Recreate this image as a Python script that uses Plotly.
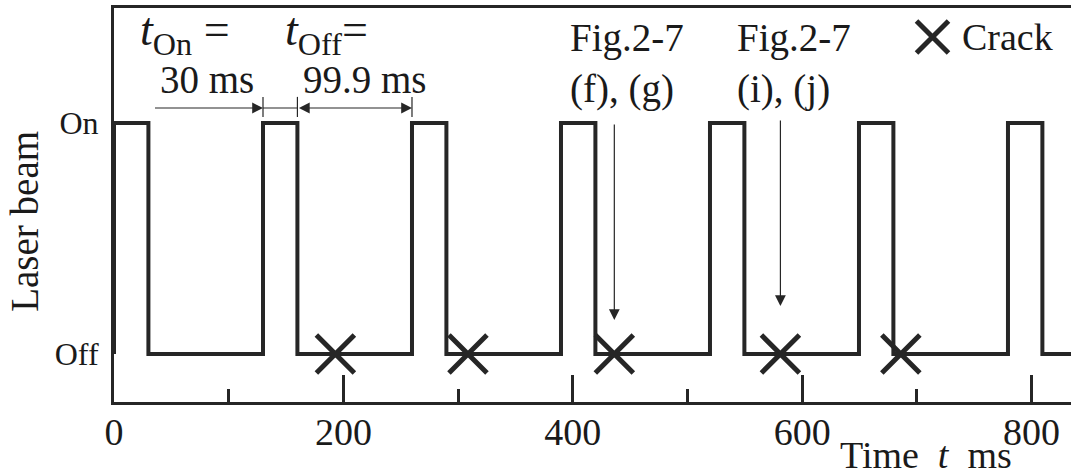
import plotly.graph_objects as go

# Laser pulse timing (ms): t_On = 30 ms, t_Off = 99.9 ms
rise_ms = [0, 129.9, 259.8, 389.7, 519.6, 649.5, 779.4]
fall_ms = [30, 159.9, 289.8, 419.7, 549.6, 679.5, 809.4]
t_end_ms = 840

# Beam state levels and their labels
state_levels = [0, 1]
state_labels = ["Off", "On"]

# Times at which a crack occurred (ms)
crack_ms = [193, 308.6, 436.2, 581, 686]

# Cracks shown in Fig.2-7 (index into crack_ms)
ref_texts = ["Fig.2-7<br>(f), (g)", "Fig.2-7<br>(i), (j)"]
ref_crack_idx = [2, 3]

# Axis ticks
x_major = [0, 200, 400, 600, 800]

INK = "#262626"
TXT = "#1a1a1a"
FONT = "Liberation Serif"


def tfont(size):
    return dict(family=FONT, size=size, color=TXT)


off_lv, on_lv = state_levels

# Step waveform built from the rise / fall edges
wave_t, wave_s = [], []
for r, f in zip(rise_ms, fall_ms):
    wave_t += [r, r, f, f]
    wave_s += [off_lv, on_lv, on_lv, off_lv]
wave_t.append(t_end_ms)
wave_s.append(off_lv)

fig = go.Figure()
fig.add_trace(go.Scatter(
    x=wave_t, y=wave_s, mode="lines",
    line=dict(color=INK, width=4), showlegend=False, hoverinfo="skip",
))
fig.add_trace(go.Scatter(
    x=crack_ms, y=[off_lv] * len(crack_ms), mode="markers",
    marker=dict(symbol="x-thin", size=38, line=dict(color=INK, width=5)),
    showlegend=False, cliponaxis=False,
))

# Legend key for the crack symbol
fig.add_trace(go.Scatter(
    x=[713.6], y=[1.372], mode="markers",
    marker=dict(symbol="x-thin", size=32, line=dict(color=INK, width=5)),
    showlegend=False, cliponaxis=False, hoverinfo="skip",
))

ann = []
ann.append(dict(x=738, y=1.372, text="Crack", xanchor="left", yanchor="middle",
                showarrow=False, font=tfont(38)))

# t_On / t_Off labels
ann.append(dict(x=21, y=1.39, text="<i>t</i><sub>On</sub> =", xanchor="left",
                yanchor="middle", showarrow=False, font=tfont(46)))
ann.append(dict(x=147, y=1.39, text="<i>t</i><sub>Off</sub>=", xanchor="left",
                yanchor="middle", showarrow=False, font=tfont(46)))
ann.append(dict(x=38.7, y=1.19, text="30 ms", xanchor="left", yanchor="middle",
                showarrow=False, font=tfont(39)))
ann.append(dict(x=162.6, y=1.19, text="99.9 ms", xanchor="left", yanchor="middle",
                showarrow=False, font=tfont(39)))

# Dimension arrows for the on / off durations
dim_y = 1.065
ann.append(dict(x=rise_ms[1], y=dim_y, ax=34.4, ay=dim_y, axref="x", ayref="y",
                text="", showarrow=True, arrowhead=2, arrowsize=1.8,
                arrowwidth=1.2, arrowcolor=INK, standoff=0))
ann.append(dict(x=rise_ms[2], y=dim_y, ax=fall_ms[1], ay=dim_y, axref="x", ayref="y",
                text="", showarrow=True, arrowhead=2, startarrowhead=2,
                arrowside="end+start", arrowsize=1.8, startarrowsize=1.8,
                arrowwidth=1.2, arrowcolor=INK, standoff=0, startstandoff=0))

shapes = []
for xv in (rise_ms[1], fall_ms[1], rise_ms[2]):
    shapes.append(dict(type="line", x0=xv, x1=xv, y0=1.026, y1=1.113,
                       line=dict(color=INK, width=1.2)))
shapes.append(dict(type="line", x0=rise_ms[1], x1=fall_ms[1], y0=dim_y, y1=dim_y,
                   line=dict(color=INK, width=1.2)))

# Fig.2-7 call-outs pointing at cracks
ref_left = [396, 541.7]
ref_tip = [0.147, 0.208]
ref_top = [1.0, 1.017]
for txt, ci, xl, tip, top in zip(ref_texts, ref_crack_idx, ref_left, ref_tip, ref_top):
    ann.append(dict(x=xl, y=1.47, text=txt, xanchor="left", yanchor="top",
                    align="left", showarrow=False, font=tfont(39)))
    ann.append(dict(x=crack_ms[ci], y=tip, ax=crack_ms[ci], ay=top,
                    axref="x", ayref="y", text="", showarrow=True, arrowhead=2,
                    arrowsize=1.8, arrowwidth=1.2, arrowcolor=INK, standoff=0))

# Axis titles
ann.append(dict(x=-0.093, y=0.46, xref="paper", yref="paper", text="Laser beam",
                textangle=-90, xanchor="center", yanchor="middle",
                showarrow=False, font=tfont(39)))
ann.append(dict(x=0.848, y=-0.135, xref="paper", yref="paper",
                text="Time&nbsp;&nbsp;<i>t</i>&nbsp;&nbsp;ms",
                xanchor="center", yanchor="middle", showarrow=False,
                font=tfont(38)))

fig.update_layout(
    width=1071, height=476,
    margin=dict(l=114, r=0, t=8, b=74, autoexpand=False),
    paper_bgcolor="white", plot_bgcolor="white",
    font=dict(family=FONT, color=TXT),
    annotations=ann, shapes=shapes,
    showlegend=False,
)
fig.update_xaxes(
    range=[0, 957 / 1.147], showgrid=False, zeroline=False,
    showline=True, linecolor=INK, linewidth=3, mirror=True,
    tickmode="array", tickvals=x_major, ticks="inside", ticklen=27,
    tickwidth=3, tickcolor=INK, tickfont=tfont(38), ticklabelstandoff=-6,
    minor=dict(dtick=100, tick0=0, ticks="inside", ticklen=13, tickwidth=3,
               tickcolor=INK, showgrid=False),
)
fig.update_yaxes(
    range=[-0.2078, 1.4978], showgrid=False, zeroline=False,
    showline=True, linecolor=INK, linewidth=3,
    tickmode="array", tickvals=state_levels, ticktext=state_labels,
    ticks="", tickfont=tfont(32), ticklabelstandoff=6,
)

fig.write_html("out.html")
